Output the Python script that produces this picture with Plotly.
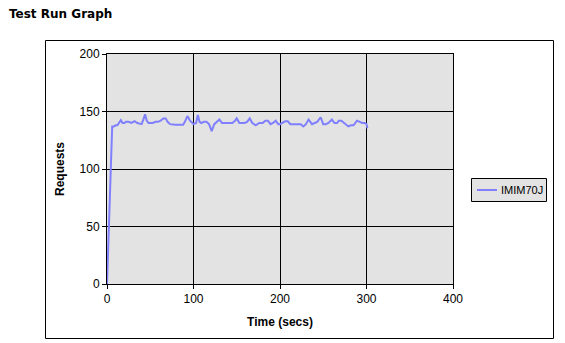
import plotly.graph_objects as go

# Data
time_secs = [0, 1, 2, 3, 4, 5, 6, 8, 10, 12, 14, 16, 18, 20, 22, 25, 28, 30, 32, 35, 38, 40,
             42, 44, 46, 48, 50, 53, 56, 59, 62, 65, 68, 70, 73, 76, 79, 82, 85, 88, 90, 93,
             96, 98, 100, 103, 105, 107, 109, 112, 115, 118, 121, 124, 127, 130, 133, 136,
             139, 142, 145, 148, 150, 153, 156, 159, 162, 165, 168, 172, 176, 180, 183, 186,
             189, 192, 195, 198, 200, 203, 206, 209, 212, 215, 218, 221, 224, 227, 230, 233,
             237, 240, 243, 247, 250, 253, 256, 260, 263, 266, 268, 271, 274, 277, 279, 282,
             285, 289, 292, 295, 298, 300, 301]
requests = [0, 25, 50, 75, 101, 112, 137, 137, 138, 138, 140, 142.5, 140, 140, 141, 141, 140, 141, 141.5, 140, 139, 139,
            143, 147.5, 142, 140, 140, 140, 141, 141, 142, 144, 144, 141, 139, 138.5, 138.5, 138.5, 138.5, 138.5, 141, 146,
            142, 140, 139, 140, 147, 141, 140, 141, 141, 139, 133, 139, 141, 143, 140, 140,
            140, 140, 140, 142, 144, 140, 140, 140, 141, 144, 140, 138, 140, 140, 142, 142,
            139, 140, 142, 139, 139, 140, 141.5, 141.5, 139, 139, 139, 139, 139, 137, 139, 143,
            139, 140, 141, 145, 139, 139, 140, 143, 140, 140, 142, 142, 140, 138, 137, 138,
            138, 142, 141, 140, 140, 139, 135.5]

series_name = "IMIM70J"
series_color = "#8080ff"
x_ticks = [0, 100, 200, 300, 400]
y_ticks = [0, 50, 100, 150, 200]

fig = go.Figure()
fig.add_trace(go.Scatter(
    x=time_secs, y=requests, mode="lines", name=series_name,
    line=dict(color=series_color, width=2), showlegend=False,
))

# plot area pixel geometry
L, R, T, B = 107, 453, 54, 284
W, H = 565, 343
pw, ph = R - L, B - T

def px(xp):
    return (xp - L) / pw

def py(yp):
    return (B - yp) / ph

axis_common = dict(
    showline=True, linecolor="black", linewidth=1, mirror=True,
    showgrid=True, gridcolor="black", gridwidth=1,
    ticks="outside", ticklen=4, tickcolor="black", tickwidth=1,
    zeroline=False,
    tickfont=dict(family="Liberation Sans, Arial", size=12, color="black"),
)

fig.update_layout(
    width=W, height=H,
    margin=dict(l=L, r=W - R, t=T, b=H - B, autoexpand=False),
    paper_bgcolor="white",
    plot_bgcolor="#e3e3e3",
    showlegend=False,
    xaxis=dict(range=[0, 400], tickvals=x_ticks, **axis_common,
               title=dict(text="<b>Time (secs)</b>", standoff=12,
                          font=dict(family="Liberation Sans, Arial", size=12, color="black"))),
    yaxis=dict(range=[0, 200], tickvals=y_ticks, **axis_common,
               title=dict(text="<b>Requests</b>", standoff=12,
                          font=dict(family="Liberation Sans, Arial", size=12, color="black"))),
    shapes=[
        # outer chart frame
        dict(type="rect", xref="paper", yref="paper",
             x0=px(45.5), x1=px(553.5), y0=py(338.5), y1=py(40.5),
             line=dict(color="black", width=1), fillcolor="rgba(0,0,0,0)", layer="below"),
        # legend box
        dict(type="rect", xref="paper", yref="paper",
             x0=px(471.5), x1=px(546.5), y0=py(201.5), y1=py(178.5),
             line=dict(color="black", width=1), fillcolor="#e3e3e3"),
        # legend line sample
        dict(type="line", xref="paper", yref="paper",
             x0=px(477), x1=px(497), y0=py(190), y1=py(190),
             line=dict(color=series_color, width=2)),
    ],
    annotations=[
        dict(text="<b>Test Run Graph</b>", xref="paper", yref="paper",
             x=px(7), y=py(14), xanchor="left", yanchor="middle", showarrow=False,
             font=dict(family="DejaVu Sans, Verdana", size=12, color="black")),
        dict(text=series_name, xref="paper", yref="paper",
             x=px(499), y=py(190), xanchor="left", yanchor="middle", showarrow=False,
             font=dict(family="Liberation Sans, Arial", size=11, color="black")),
    ],
)

fig.write_html("out.html")
